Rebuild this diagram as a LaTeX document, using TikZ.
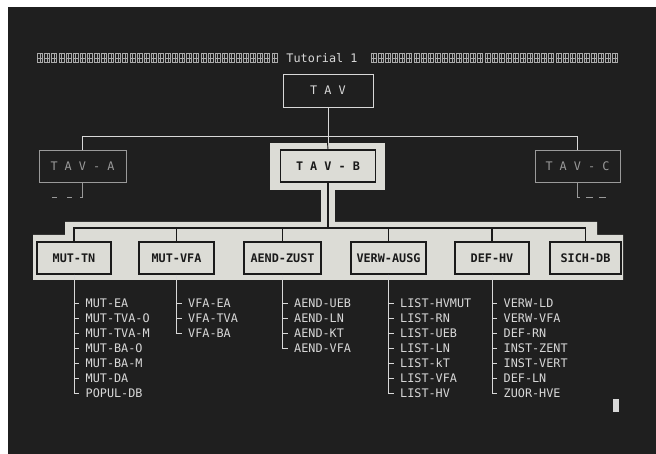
\documentclass[tikz,border=0pt]{standalone}
\usepackage{fontspec}
\setmonofont{DejaVu Sans Mono}

\definecolor{screen}{HTML}{1F1F1F}
\definecolor{glow}{HTML}{D8D8D8}
\definecolor{dim}{HTML}{9A9A9A}
\definecolor{panel}{HTML}{DCDCD6}
\definecolor{ink}{HTML}{1A1A1A}

\tikzset{
    crt/.style={font=\ttfamily\fontsize{11.8}{12}\selectfont},
    crtbold/.style={font=\ttfamily\bfseries\fontsize{11.8}{12}\selectfont},
    framebox/.style={crt, draw=glow, text=glow, line width=0.9pt, minimum height=33pt, inner sep=0pt},
    dimbox/.style={crt, draw=dim, text=dim, line width=0.7pt, minimum height=32pt, inner sep=0pt},
    subbox/.style={crtbold, draw=ink, fill=panel, text=ink, line width=1.6pt, minimum height=32pt, inner sep=0pt},
    leaf/.style={crt, text=glow, anchor=west, inner sep=0pt},
    twig/.style={glow, line width=0.7pt},
    dimtwig/.style={dim, line width=0.9pt},
    bar/.style={ink, line width=1.8pt},
    glyph/.style={glow!75!screen, line width=0.5pt},
}

\begin{document}
\begin{tikzpicture}[x=1pt,y=-1pt]
    \useasboundingbox (0,0) rectangle (656,454);
    \fill[white] (0,0) rectangle (656,454);
    \fill[screen] (8,7) rectangle (656,454);

    % title row
    \foreach \i in {0,...,33,47,48,...,81} {
        \draw[glyph] (37.5+7.1*\i,53.5) rectangle ++(5,9);
        \draw[glyph] (40+7.1*\i,53.5) -- ++(0,9) (37.5+7.1*\i,58) -- ++(5,0);
    }
    \node[crt, text=glow, inner sep=0pt] (title) at (322,58) {Tutorial 1};

    % light panels
    \node[fill=panel, minimum width=115pt, minimum height=47pt, inner sep=0pt] (tavBpanel) at (327.5,166.5) {};
    \fill[panel] (321,190) rectangle (335,223);
    \fill[panel] (33,235) -- (65,235) -- (65,222) -- (597,222) -- (597,235)
        -- (623,235) -- (623,280) -- (33,280) -- cycle;

    \node[framebox, minimum width=90pt] (tav) at (328,90.5) {T A V};
    \node[dimbox, minimum width=87pt] (tavA) at (82.5,166.5) {T A V - A};
    \node[dimbox, minimum width=85pt] (tavC) at (577.5,166.5) {T A V - C};
    \node[subbox, minimum width=95pt] (tavB) at (328,166) {T A V - B};

    \node[subbox, minimum width=74pt] (mutTN) at (74,258) {MUT-TN};
    \node[subbox, minimum width=75pt] (mutVFA) at (176.5,258) {MUT-VFA};
    \node[subbox, minimum width=77pt] (aendZust) at (282.5,258) {AEND-ZUST};
    \node[subbox, minimum width=75pt] (verwAusg) at (388.5,258) {VERW-AUSG};
    \node[subbox, minimum width=74pt] (defHV) at (492,258) {DEF-HV};
    \node[subbox, minimum width=71pt] (sichDB) at (585.5,258) {SICH-DB};

    \coordinate (hub) at (0,136);
    \coordinate (bus) at (0,228);
    \coordinate (tavAend) at (52,197);
    \coordinate (tavCend) at (607,197);

    % upper level
    \draw[twig] (tav.south) -- (tav.south |- tavBpanel.north);
    \draw[twig] (tavA.north) -- (tavA.north |- hub) -- (tavC.north |- hub) -- (tavC.north);
    \draw[ink, line width=0.9pt] (tavBpanel.north) -- (tavB.north);
    \draw[dimtwig, dash pattern=on 17pt off 8pt on 5pt off 10pt on 6pt] (tavA.south) |- (tavAend);
    \draw[dimtwig, dash pattern=on 17pt off 6pt on 7pt off 6pt on 7pt] (tavC.south) |- (tavCend);

    % lower level
    \draw[bar] (tavB.south) -- (tavB.south |- bus);
    \draw[bar] (mutTN.north) -- (mutTN.north |- bus) -- (sichDB.north |- bus) -- (sichDB.north);
    \foreach \b in {mutVFA,aendZust,verwAusg,defHV}
        \draw[bar] (\b.north) -- (\b.north |- bus);

    % program lists
    \foreach \b/\l in {mutTN/{MUT-EA,MUT-TVA-O,MUT-TVA-M,MUT-BA-O,MUT-BA-M,MUT-DA,POPUL-DB},
                       mutVFA/{VFA-EA,VFA-TVA,VFA-BA},
                       aendZust/{AEND-UEB,AEND-LN,AEND-KT,AEND-VFA},
                       verwAusg/{LIST-HVMUT,LIST-RN,LIST-UEB,LIST-LN,LIST-kT,LIST-VFA,LIST-HV},
                       defHV/{VERW-LD,VERW-VFA,DEF-RN,INST-ZENT,INST-VERT,DEF-LN,ZUOR-HVE}} {
        \foreach \t [count=\i from 0] in \l {
            \node[leaf] (\b-\i) at ([xshift=11.5pt]\b.south |- 0,303+15*\i) {\t};
            \draw[twig] (\b.south) |- ([xshift=-6.5pt]\b-\i.west);
        }
    }

    % cursor
    \fill[glow] (613,399) rectangle (619,412);
\end{tikzpicture}
\end{document}
